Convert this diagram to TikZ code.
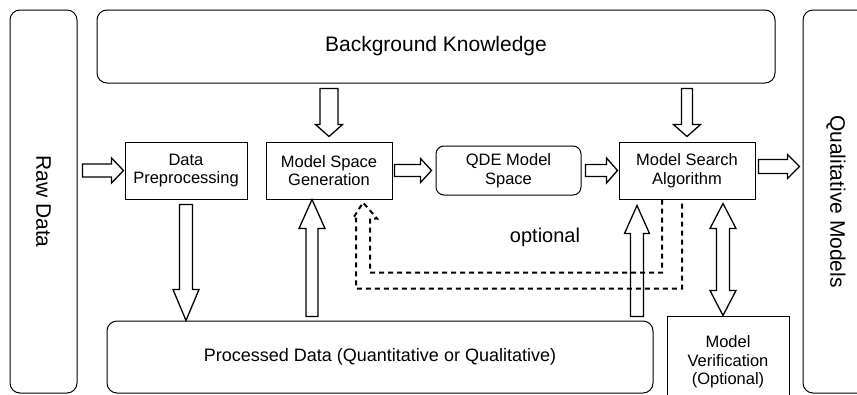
\documentclass[tikz,border=0pt]{standalone}
\usepackage{fontspec}
\setmainfont{Liberation Sans}
\usetikzlibrary{calc, positioning}

\begin{document}
\begin{tikzpicture}[x=1pt, y=-1pt,
    box/.style={draw, line width=1pt, align=center, inner sep=2pt,
        font=\fontsize{16.5}{18.5}\selectfont},
    rbox/.style={box, rounded corners=10pt},
    % hollow block arrow: shaft half width / head half width / head length
    blk/.style args={#1/#2/#3}{line width=1.3pt, to path={
        let \p1=($(\tikztotarget)!#3!(\tikztostart)$) in
        ($(\tikztostart)!#1!90:(\tikztotarget)$) -- ($(\p1)!#1!90:(\tikztotarget)$)
        -- ($(\p1)!#2!90:(\tikztotarget)$) -- (\tikztotarget)
        -- ($(\p1)!#2!-90:(\tikztotarget)$) -- ($(\p1)!#1!-90:(\tikztotarget)$)
        -- ($(\tikztostart)!#1!-90:(\tikztotarget)$) -- cycle}},
    dblk/.style args={#1/#2/#3}{line width=1.3pt, to path={
        let \p1=($(\tikztotarget)!#3!(\tikztostart)$),
            \p2=($(\tikztostart)!#3!(\tikztotarget)$) in
        (\tikztostart) -- ($(\p2)!#2!90:(\tikztotarget)$) -- ($(\p2)!#1!90:(\tikztotarget)$)
        -- ($(\p1)!#1!90:(\tikztotarget)$) -- ($(\p1)!#2!90:(\tikztotarget)$)
        -- (\tikztotarget)
        -- ($(\p1)!#2!-90:(\tikztotarget)$) -- ($(\p1)!#1!-90:(\tikztotarget)$)
        -- ($(\p2)!#1!-90:(\tikztotarget)$) -- ($(\p2)!#2!-90:(\tikztotarget)$)
        -- cycle}},
    dashedarr/.style={line width=2pt, dash pattern=on 5pt off 4pt}]

    \useasboundingbox (0,0) rectangle (857,394);

    % side columns
    \node[rbox, minimum width=67pt, minimum height=383pt, font=\fontsize{21}{24}\selectfont]
        (raw) at (43.5,201.5) {\rotatebox{-90}{Raw Data}};
    \node[rbox, minimum width=66pt, minimum height=383pt, font=\fontsize{21}{24}\selectfont]
        (qm) at (836,201.5) {\rotatebox{-90}{Qualitative Models}};

    % top and bottom bars
    \node[rbox, minimum width=678pt, minimum height=73pt, font=\fontsize{21}{24}\selectfont]
        (bk) at (436,46.5) {Background Knowledge};
    \node[rbox, minimum width=546pt, minimum height=72pt, font=\fontsize{18}{21}\selectfont]
        (pd) at (380,357) {Processed Data (Quantitative or Qualitative)};

    % process steps
    \node[box, minimum width=122pt, minimum height=57pt] (dp) at (186,170.5) {Data\\Preprocessing};
    \node[box, minimum width=126pt, minimum height=57pt] (msg) at (329,170.5) {Model Space\\Generation};
    \node[box, rounded corners=8pt, minimum width=145pt, minimum height=49pt] (qde) at (508.5,170.5) {QDE Model\\Space};
    \node[box, minimum width=136pt, minimum height=57pt] (msa) at (687,170.5) {Model Search\\Algorithm};
    \node[box, minimum width=122pt, minimum height=92pt] (mv) at (728,362) {Model\\Verification\\(Optional)};

    \node[font=\fontsize{20}{24}\selectfont] (opt) at (545,237) {optional};

    % arrows
    \draw[blk=6.5pt/12.5pt/12pt] ([xshift=5pt]raw.east |- dp.west) to ([xshift=-1pt]dp.west);
    \draw[blk=9pt/13.5pt/12pt] ([yshift=-5pt]bk.south -| msg.north) to ([yshift=5pt]msg.north);
    \draw[blk=5.5pt/13.5pt/12pt] ([yshift=-5pt]bk.south -| msa.north) to ([yshift=5pt]msa.north);
    \draw[blk=6pt/12pt/11pt] ([xshift=2pt]msg.east) to ([xshift=-4pt]qde.west);
    \draw[blk=6pt/12.5pt/11pt] ([xshift=4pt]qde.east) to ([xshift=-1pt]msa.west);
    \draw[blk=7pt/12pt/12pt] ([xshift=3pt,yshift=4pt]msa.east) to ([xshift=-3pt,yshift=4pt]msa.east -| qm.west);
    \draw[blk=6.5pt/13pt/31pt] ([yshift=-5pt]dp.south) to (dp.south |- pd.north);
    \draw[blk=6pt/13pt/29pt] ([xshift=-17pt,yshift=4pt]msg.south |- pd.north) to ([xshift=-17pt]msg.south);
    \draw[blk=6.5pt/12.5pt/28pt] ([xshift=-50pt,yshift=4pt]msa.south |- pd.north) to ([xshift=-50pt,yshift=-6pt]msa.south);
    \draw[dblk=6.5pt/13pt/25pt] ([xshift=36pt,yshift=-4pt]msa.south) to ([xshift=-5pt]mv.north);

    % optional feedback
    \draw[dashedarr] ([xshift=-25pt]msa.south) -- ++(0,73) -- ++(-292,0) -- ++(0,-54) -- ++(7,0)
        -- ([xshift=34pt,yshift=-3pt]msg.south) -- ++(-10,16) -- ++(3,0) -- ++(0,70)
        -- ++(326,0) -- ++(0,-89);
\end{tikzpicture}
\end{document}
